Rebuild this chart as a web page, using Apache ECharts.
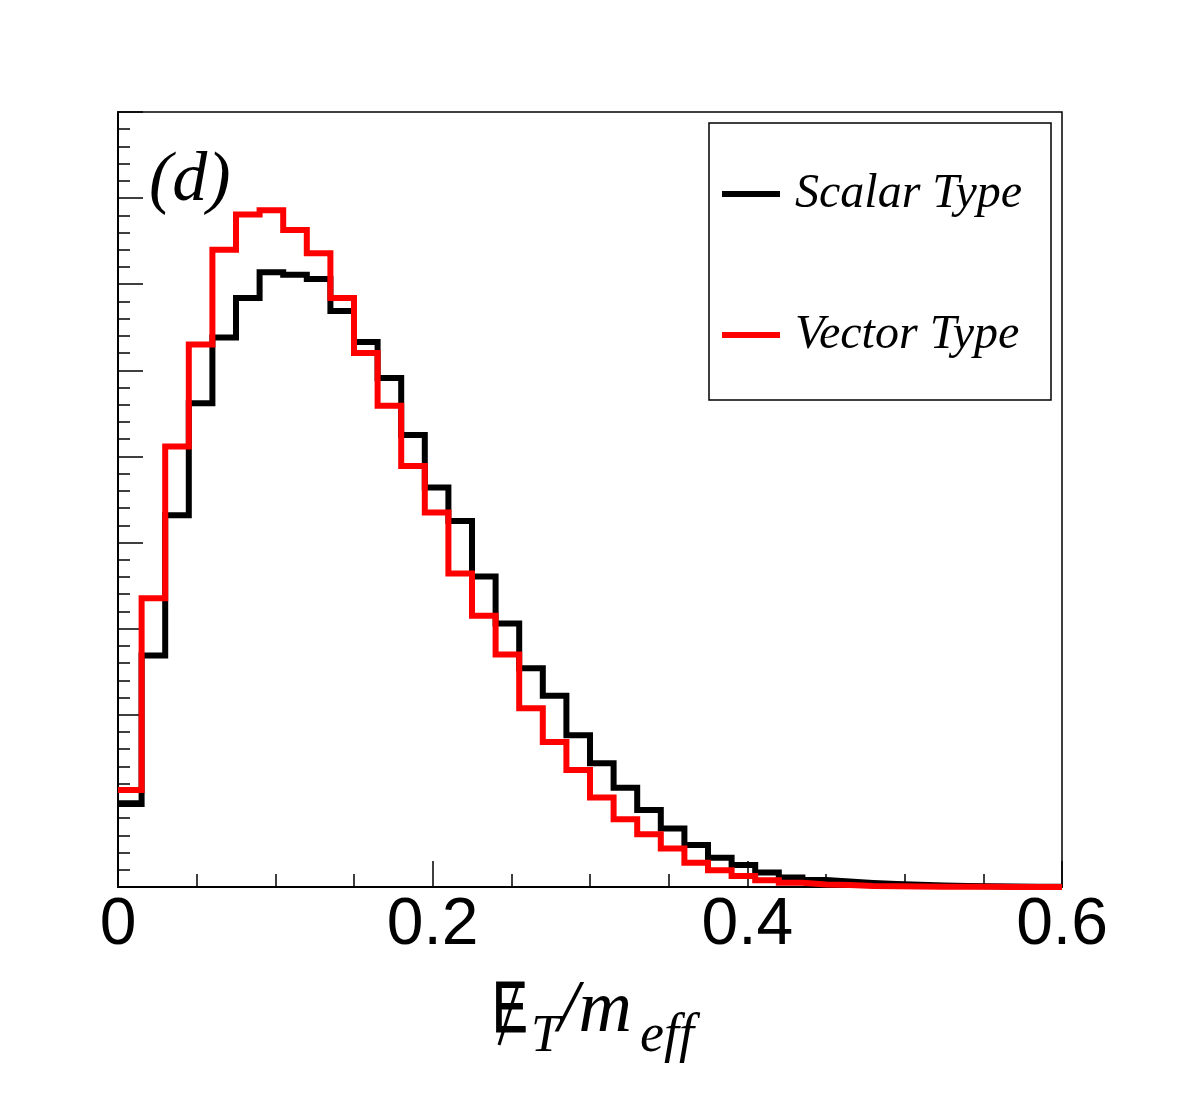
<!DOCTYPE html>
<html>
<head>
<meta charset="utf-8">
<script src="https://cdn.jsdelivr.net/npm/echarts@6/dist/echarts.min.js"></script>
<style>
  html, body { margin: 0; padding: 0; background: #fff; }
  #chart { width: 1182px; height: 1111px; }
</style>
</head>
<body>
<div id="chart"></div>
<script>
// histogram: 40 bins from 0 to 0.6
var xMin = 0;
var xMax = 0.6;
var nBins = 40;
var binWidth = (xMax - xMin) / nBins;

var seriesNames = ["Scalar Type", "Vector Type"];
var seriesColors = ["#000000", "#ff0000"];

var scalarCounts = [
  0.964, 2.687, 4.317, 5.618, 6.38, 6.84, 7.14, 7.11, 7.06, 6.69,
  6.33, 5.91, 5.25, 4.64, 4.25, 3.605, 3.06, 2.54, 2.22, 1.762,
  1.437, 1.154, 0.894, 0.678, 0.488, 0.341, 0.255, 0.167, 0.109, 0.081,
  0.063, 0.046, 0.035, 0.025, 0.018, 0.012, 0.008, 0.005, 0.003, 0.002
];
var vectorCounts = [
  1.127, 3.353, 5.115, 6.30, 7.40, 7.81, 7.86, 7.63, 7.36, 6.84,
  6.20, 5.59, 4.89, 4.35, 3.64, 3.15, 2.70, 2.075, 1.684, 1.359,
  1.038, 0.786, 0.612, 0.446, 0.283, 0.194, 0.128, 0.078, 0.05, 0.03,
  0.023, 0.012, 0.008, 0.006, 0.004, 0.003, 0.002, 0.001, 0.001, 0.0
];

var xTicks = [0, 0.2, 0.4, 0.6];

// step points at the left edge of every bin, plus the closing edge
function toSteps(counts) {
  var pts = [];
  for (var i = 0; i < counts.length; i++) {
    pts.push([xMin + i * binWidth, counts[i]]);
  }
  pts.push([xMax, counts[counts.length - 1]]);
  return pts;
}

var myChart = echarts.init(document.getElementById("chart"));

function makeSeries(name, counts, color) {
  return {
    name: name,
    type: "line",
    step: "end",
    data: toSteps(counts),
    symbol: "none",
    clip: false,
    color: color,
    lineStyle: { width: 6, color: color, cap: "butt", join: "miter" },
    animation: false
  };
}

var option = {
  animation: false,
  backgroundColor: "#fff",
  grid: {
    left: 118,
    top: 112,
    width: 944,
    height: 775,
    show: true,
    borderColor: "#000",
    borderWidth: 1.5
  },
  xAxis: {
    type: "value",
    min: xMin,
    max: xMax,
    interval: 0.2,
    splitLine: { show: false },
    axisLine: { show: true, lineStyle: { color: "#000", width: 2 } },
    axisTick: { show: true, inside: true, length: 26, lineStyle: { color: "#000", width: 1.5 } },
    minorTick: { show: true, splitNumber: 4, length: 13, lineStyle: { color: "#000", width: 1.5 } },
    axisLabel: {
      margin: 6,
      color: "#000",
      fontFamily: "Liberation Sans",
      fontSize: 66,
      formatter: function (v) {
        for (var i = 0; i < xTicks.length; i++) {
          if (Math.abs(v - xTicks[i]) < 1e-9) return String(xTicks[i]);
        }
        return "";
      }
    }
  },
  yAxis: {
    type: "value",
    min: 0,
    max: 9,
    interval: 1,
    splitLine: { show: false },
    axisLine: { show: true, lineStyle: { color: "#000", width: 2 } },
    axisTick: { show: true, inside: true, length: 25, lineStyle: { color: "#000", width: 1.5 } },
    minorTick: { show: true, splitNumber: 5, length: 12, lineStyle: { color: "#000", width: 1.5 } },
    axisLabel: { show: false }
  },
  legend: {
    orient: "vertical",
    left: 722,
    top: 165,
    padding: 0,
    itemWidth: 58,
    itemHeight: 6,
    itemGap: 83,
    icon: "rect",
    data: seriesNames,
    textStyle: {
      fontFamily: "Liberation Serif",
      fontStyle: "italic",
      fontSize: 48,
      lineHeight: 50,
      color: "#000",
      padding: [8, 0, 0, 10]
    }
  },
  graphic: [
    {
      type: "rect",
      shape: { x: 709, y: 123, width: 342, height: 277 },
      style: { fill: "none", stroke: "#000", lineWidth: 1.5 },
      z: 1
    },
    {
      type: "text",
      left: 149,
      top: 147,
      style: {
        text: "(d)",
        fontFamily: "Liberation Serif",
        fontStyle: "italic",
        fontSize: 70,
        fill: "#000"
      }
    },
    // axis title: missing E_T / m_eff
    {
      type: "text",
      x: 492, y: 1012,
      scaleX: 0.74,
      style: { text: "E", fontFamily: "Liberation Sans", fontSize: 72, fill: "#000", stroke: "#000", lineWidth: 1, verticalAlign: "middle" }
    },
    {
      type: "line",
      shape: { x1: 499, y1: 1045, x2: 518, y2: 985 },
      style: { stroke: "#000", lineWidth: 3 }
    },
    {
      type: "text",
      x: 531, y: 1037,
      style: { text: "T", fontFamily: "Liberation Serif", fontStyle: "italic", fontSize: 52, fill: "#000", verticalAlign: "middle" }
    },
    {
      type: "text",
      x: 558, y: 1012,
      style: { text: "/m", fontFamily: "Liberation Serif", fontStyle: "italic", fontSize: 74, fill: "#000", verticalAlign: "middle" }
    },
    {
      type: "text",
      x: 640, y: 1037,
      style: { text: "eff", fontFamily: "Liberation Serif", fontStyle: "italic", fontSize: 54, fill: "#000", verticalAlign: "middle" }
    }
  ],
  series: [
    makeSeries(seriesNames[0], scalarCounts, seriesColors[0]),
    makeSeries(seriesNames[1], vectorCounts, seriesColors[1])
  ]
};

myChart.setOption(option);
</script>
</body>
</html>
